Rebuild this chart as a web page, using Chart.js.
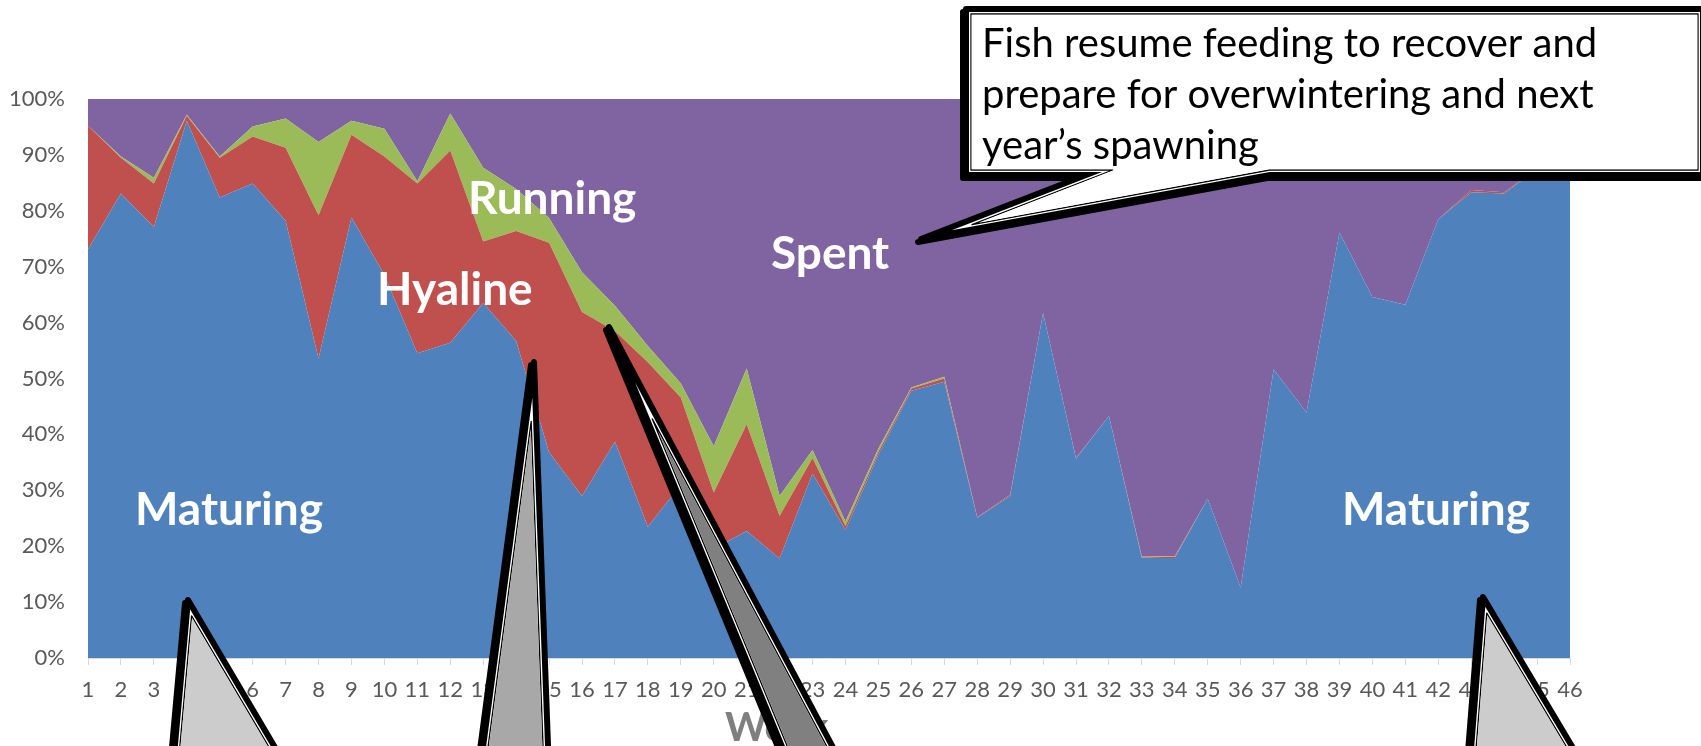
<!DOCTYPE html>
<html>
<head>
<meta charset="utf-8">
<title>Maturity stages by week</title>
<script src="https://cdn.jsdelivr.net/npm/chart.js@4.4.1/dist/chart.umd.min.js"></script>
<style>
html,body{margin:0;padding:0;background:#fff;}
#wrap{width:1701px;height:746px;}
</style>
</head>
<body>
<div id="wrap"><canvas id="stageChart" width="1701" height="746"></canvas></div>
<script>
// ==========================================
// STAGE SHARES PER WEEK (%)
// ==========================================

const weeks=[
"1","2","3","4","5","6","7","8","9","10",
"11","12","13","14","15","16","17","18","19","20",
"21","22","23","24","25","26","27","28","29","30",
"31","32","33","34","35","36","37","38","39","40",
"41","42","43","44","45","46"
];

const maturing=[
73.1,83.1,77.1,96.1,82.4,84.9,78.2,53.6,78.8,68.5,
54.5,56.4,63.5,56.7,36.8,29.0,38.7,23.5,31.0,19.5,
22.7,17.8,33.0,22.9,36.4,47.8,49.4,25.1,29.0,61.7,
35.7,43.3,17.9,17.9,28.5,12.6,51.6,43.9,76.1,64.6,
63.2,78.5,83.3,83.1,87.5,90.0
];

const hyaline=[
22.1,6.4,7.8,0.9,7.1,8.4,13.1,25.6,14.8,21.2,
30.4,34.4,11.0,19.7,37.5,32.9,19.8,29.4,15.6,10.1,
19.1,7.6,2.8,0.7,0.5,0.4,0.6,0.1,0.2,0,
0.1,0,0.1,0.2,0,0,0,0,0,0,
0,0,0.4,0.2,0,0
];

const running=[
0,0.2,1.0,0.2,0.2,1.8,5.2,13.1,2.5,5.0,
0.4,6.6,13.2,7.5,4.4,7.1,4.5,2.9,2.5,8.3,
10.0,3.6,1.4,0.8,0.6,0.2,0.3,0,0,0,
0,0,0.1,0.1,0,0,0,0,0,0,
0,0,0,0,0,0
];

const spent=[
4.8,10.3,14.1,2.8,10.3,4.9,3.5,7.7,3.9,5.3,
14.7,2.6,12.3,16.1,21.3,31.0,37.0,44.2,50.9,62.1,
48.2,71.0,62.8,75.6,62.5,51.6,49.7,74.8,70.8,38.3,
64.2,56.7,81.9,81.8,71.5,87.4,48.4,56.1,23.9,35.4,
36.8,21.5,16.3,16.7,12.5,10.0
];

// ==========================================
// Callout drawing helpers
// ==========================================

function tracePath(ctx,pts){
  ctx.beginPath();
  pts.forEach((p,i)=>{
    if(i===0) ctx.moveTo(p[0],p[1]);
    else ctx.lineTo(p[0],p[1]);
  });
  ctx.closePath();
}

// move every edge inward by d and re-intersect neighbours
function insetPoly(pts,d){
  const n=pts.length;
  let area=0;
  for(let i=0;i<n;i++){
    const a=pts[i],b=pts[(i+1)%n];
    area+=a[0]*b[1]-b[0]*a[1];
  }
  const s=area>0?1:-1;
  const lines=pts.map((p,i)=>{
    const q=pts[(i+1)%n];
    const dx=q[0]-p[0],dy=q[1]-p[1];
    const len=Math.hypot(dx,dy);
    return {x:p[0]-dy/len*s*d,y:p[1]+dx/len*s*d,dx:dx,dy:dy};
  });
  return lines.map((l,i)=>{
    const a=lines[(i-1+n)%n];
    const cross=a.dx*l.dy-a.dy*l.dx;
    const t=((l.x-a.x)*l.dy-(l.y-a.y)*l.dx)/cross;
    return [a.x+a.dx*t,a.y+a.dy*t];
  });
}

// thick-thin black outline with a small drop shadow
function drawCallout(ctx,pts,fill){
  ctx.save();
  ctx.lineJoin="round";
  ctx.strokeStyle="#000";
  ctx.fillStyle="#000";

  ctx.save();
  ctx.translate(-3,3);
  tracePath(ctx,pts);
  ctx.fill();
  ctx.lineWidth=6;
  ctx.stroke();
  ctx.restore();

  tracePath(ctx,pts);
  ctx.lineWidth=6;
  ctx.stroke();

  tracePath(ctx,insetPoly(pts,3));
  ctx.fillStyle="#fff";
  ctx.fill();

  tracePath(ctx,insetPoly(pts,5));
  ctx.lineWidth=1.3;
  ctx.stroke();

  tracePath(ctx,insetPoly(pts,5.7));
  ctx.fillStyle=fill;
  ctx.fill();
  ctx.restore();
}

const pointers=[
  {fill:"#cccccc",pts:[[188,600],[306,800],[170,800]]},
  {fill:"#a8a8a8",pts:[[534,362],[550,800],[476,800]]},
  {fill:"#808080",pts:[[609,327],[861,800],[804,800]]},
  {fill:"#cccccc",pts:[[1483,597],[1604,800],[1467,800]]}
];

const bubble=[
  [966,9],[1703,9],[1703,175],[1270,175],[921,239],[1086,175],[966,175]
];

const bubbleLines=[
"Fish resume feeding to recover and",
"prepare for overwintering and next",
"year\u2019s spawning"
];

const notes={
  id:"notes",
  afterDraw(chart){
    const ctx=chart.ctx;
    ctx.save();

    // stage names on the areas
    ctx.fillStyle="#fff";
    ctx.font="bold 46px Lato";
    ctx.textAlign="left";
    ctx.textBaseline="alphabetic";
    ctx.fillText("Maturing",135,525);
    ctx.fillText("Maturing",1342,525);
    ctx.fillText("Hyaline",377,305);
    ctx.fillText("Running",468,214);
    ctx.fillText("Spent",771,269);

    // axis title
    ctx.fillStyle="#7f7f7f";
    ctx.font="bold 40px Lato";
    ctx.fillText("Week",725,741);

    pointers.forEach(p=>drawCallout(ctx,p.pts,p.fill));
    drawCallout(ctx,bubble,"#fff");

    ctx.fillStyle="#000";
    ctx.font="40px Lato";
    bubbleLines.forEach((t,i)=>{
      ctx.fillText(t,982,57+i*51);
    });

    ctx.restore();
  }
};

// ==========================================
// 100% stacked area
// ==========================================

new Chart(
  document.getElementById("stageChart"),
  {
    type:"line",
    data:{
      labels:weeks,
      datasets:[
        {label:"Maturing",data:maturing,backgroundColor:"#4f81bd",fill:"origin"},
        {label:"Hyaline",data:hyaline,backgroundColor:"#c0504d",fill:"-1"},
        {label:"Running",data:running,backgroundColor:"#9bbb59",fill:"-1"},
        {label:"Spent",data:spent,backgroundColor:"#8064a2",fill:"-1"}
      ]
    },
    options:{
      responsive:false,
      animation:false,
      devicePixelRatio:1,
      layout:{padding:{top:99,right:131,bottom:0,left:0}},
      elements:{
        line:{tension:0,borderWidth:0,borderColor:"rgba(0,0,0,0)"},
        point:{radius:0,hoverRadius:0}
      },
      plugins:{
        legend:{display:false},
        tooltip:{enabled:false}
      },
      scales:{
        x:{
          offset:false,
          grid:{
            display:true,
            drawOnChartArea:false,
            drawTicks:true,
            tickLength:7,
            tickColor:"#d9d9d9"
          },
          border:{display:true,color:"#d9d9d9",width:1},
          ticks:{
            autoSkip:false,
            maxRotation:0,
            padding:12,
            color:"#595959",
            font:{family:"Lato",size:22}
          },
          afterFit:(scale)=>{scale.height=88;}
        },
        y:{
          stacked:true,
          min:0,
          max:100,
          grid:{display:false,drawTicks:false},
          border:{display:false},
          ticks:{
            stepSize:10,
            padding:23,
            color:"#595959",
            font:{family:"Lato",size:22},
            callback:v=>v+"%"
          },
          afterFit:(scale)=>{scale.width=88;}
        }
      }
    },
    plugins:[notes]
  }
);
</script>
</body>
</html>
